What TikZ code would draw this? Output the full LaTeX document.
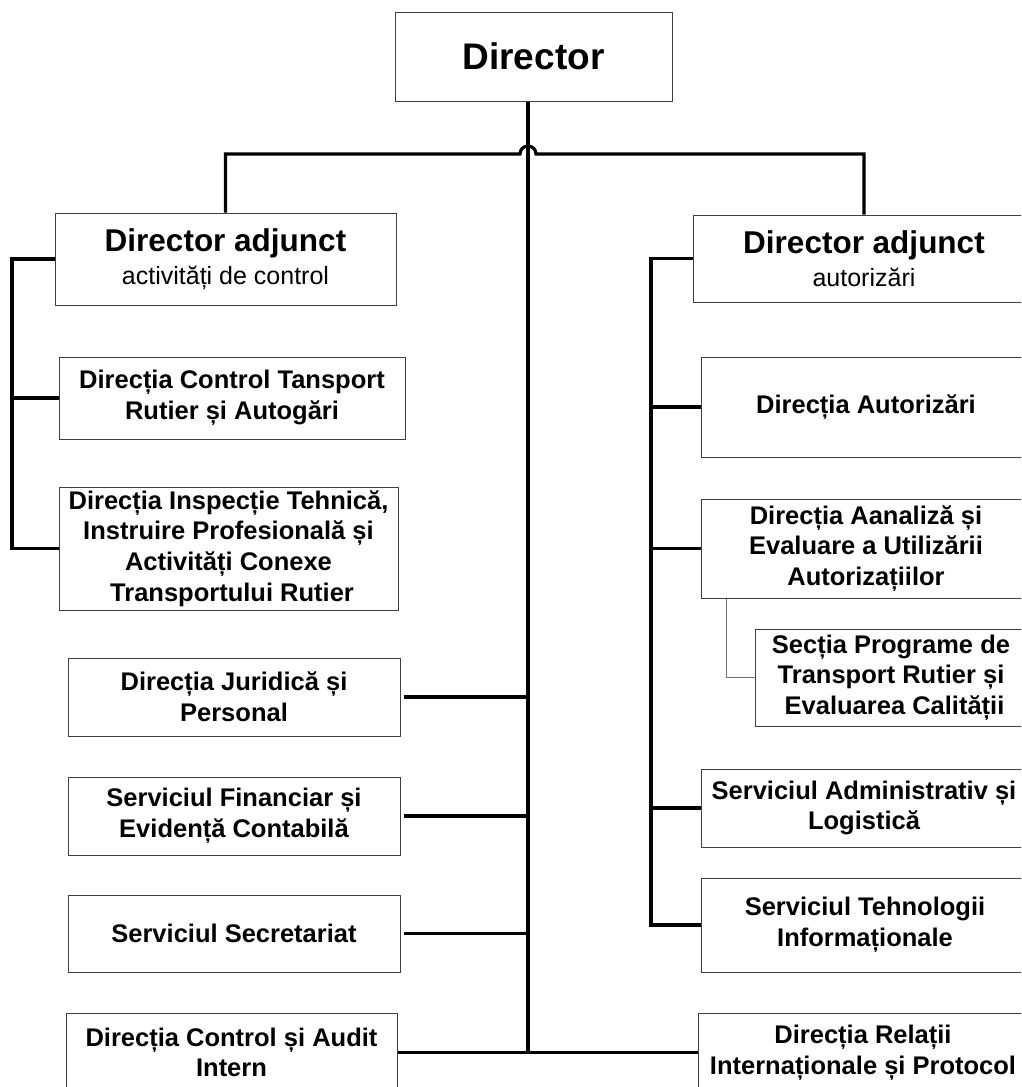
\documentclass[tikz,border=0pt]{standalone}
\usepackage{fontspec}
\setmainfont{Liberation Sans}
\tikzset{
  box/.style={draw=black!75, line width=1pt, fill=white, align=center, inner sep=0pt,
    font=\bfseries\fontsize{25.5}{30.7}\selectfont},
  conn/.style={line width=3.2pt, draw=black},
  subconn/.style={line width=1pt, draw=black!55},
}
\begin{document}
\begin{tikzpicture}[x=1pt,y=-1pt]
\clip (0,0) rectangle (1021,1087);
\fill[white] (0,0) rectangle (1021,1087);

% top
\node[box, minimum width=277pt, minimum height=89pt, font=\bfseries\fontsize{37}{40}\selectfont] (dir) at (533.5,56.5) {Director};

\node[box, minimum width=341pt, minimum height=92pt] (da1) at (225.5,259)
  {{\fontsize{31.5}{40}\selectfont Director adjunct}\\[2pt]{\mdseries\fontsize{25}{30}\selectfont activități de control}};
\node[box, minimum width=342pt, minimum height=87pt] (da2) at (864,258.5)
  {{\fontsize{31.5}{40}\selectfont Director adjunct}\\[2pt]{\mdseries\fontsize{25}{30}\selectfont autorizări}};

% left column
\node[box, minimum width=346pt, minimum height=82pt] (dctr) at (232,398)
  {Direcția Control Tansport\\Rutier și Autogări};
\node[box, minimum width=339pt, minimum height=123pt] (dit) at (228.5,548.5)
  {Direcția Inspecție Tehnică,\\Instruire Profesională și\\Activități Conexe\\\ Transportului Rutier};
\node[box, minimum width=332pt, minimum height=78pt] (jur) at (234,697)
  {Direcția Juridică și\\Personal};
\node[box, minimum width=332pt, minimum height=78pt] (fin) at (234,816)
  {Serviciul Financiar și\\Evidență Contabilă};
\node[box, minimum width=332pt, minimum height=77pt] (sec) at (234,933.5)
  {Serviciul Secretariat};
\node[box, minimum width=331pt, minimum height=79pt] (audit) at (231.5,1052.5)
  {Direcția Control și Audit\\Intern};

% right column
\node[box, minimum width=330pt, minimum height=100pt] (dauth) at (866,407)
  {Direcția Autorizări};
\node[box, minimum width=330pt, minimum height=99pt] (anal) at (866,548.5)
  {Direcția Aanaliză și\\Evaluare a Utilizării\\Autorizațiilor};
\node[box, minimum width=272pt, minimum height=97pt] (sectia) at (891,677.5)
  {Secția Programe de\\Transport Rutier și\\\ Evaluarea Calității};
\node[box, minimum width=326pt, minimum height=78pt] (adm) at (864,808)
  {Serviciul Administrativ și\\Logistică};
\node[box, minimum width=328pt, minimum height=94pt] (tehn) at (865,925)
  {Serviciul Tehnologii\\Informaționale};
\node[box, minimum width=330pt, minimum height=79pt] (rel) at (863,1052.5)
  {Direcția Relații\\Internaționale și Protocol};

% connectors
\coordinate (bus) at (528,154);
\coordinate (lb) at (12,0);
\coordinate (rb) at (651,0);
\coordinate (trunktop) at (dir.south -| bus);
\coordinate (trunkend) at (bus |- rel.west);

\draw[conn] (trunktop) -- (trunkend);
\draw[conn] (da1.north) -- (da1.north |- bus) -- ([xshift=-8pt]bus)
  arc[start angle=180, end angle=0, radius=8pt] -- (da2.north |- bus) -- (da2.north);

\draw[conn] (da1.west) -- (lb |- da1.west) -- (lb |- dit.west) -- (dit.west);
\draw[conn] (lb |- dctr.west) -- (dctr.west);

\draw[conn] (da2.west) -- (rb |- da2.west) -- (rb |- tehn.west) -- (tehn.west);
\draw[conn] (rb |- dauth.west) -- (dauth.west);
\draw[conn] (rb |- anal.west) -- (anal.west);
\draw[conn] (rb |- adm.west) -- (adm.west);

\draw[subconn] ([xshift=26pt]anal.south west) -- ([xshift=26pt]anal.south west |- sectia.west) -- (sectia.west);

\draw[conn] ([xshift=3pt]jur.east) -- (jur.east -| bus);
\draw[conn] ([xshift=3pt]fin.east) -- (fin.east -| bus);
\draw[conn] ([xshift=3pt]sec.east) -- (sec.east -| bus);
\draw[conn] (audit.east) -- (rel.west);
\end{tikzpicture}
\end{document}
